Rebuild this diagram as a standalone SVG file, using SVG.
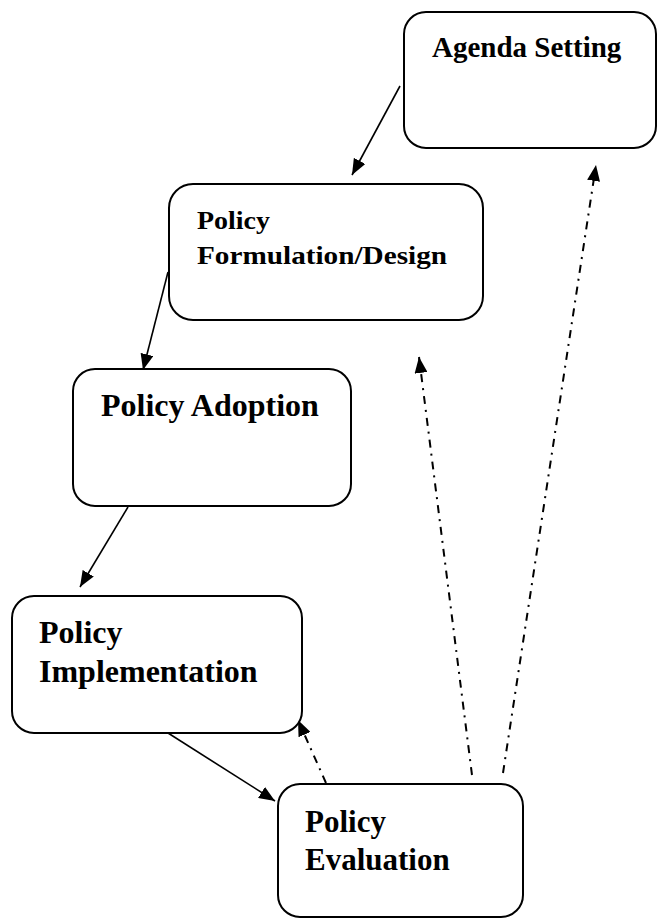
<svg xmlns="http://www.w3.org/2000/svg" width="657" height="918" viewBox="0 0 657 918">
<style>
.box{fill:#fff;stroke:#000;stroke-width:2}
.lbl{font-family:'Liberation Serif',Times,'Times New Roman',serif;font-weight:700;fill:#000}
.solid{stroke:#000;stroke-width:1.6;fill:none}
.dash{stroke:#000;stroke-width:2;fill:none;stroke-dasharray:8 6 2 6}
</style>
<defs>
<marker id="ah" markerUnits="userSpaceOnUse" markerWidth="17" markerHeight="13" refX="16" refY="6.5" orient="auto">
<path d="M0,0 L16,6.5 L0,13 z" fill="#000" stroke="none"/>
</marker>
</defs>
<rect width="657" height="918" fill="#fff"/>
<g id="connectors">
<line class="solid" x1="400" y1="86" x2="352" y2="175" marker-end="url(#ah)"/>
<line class="solid" x1="168" y1="272" x2="143" y2="370" marker-end="url(#ah)"/>
<line class="solid" x1="128" y1="507" x2="80" y2="587" marker-end="url(#ah)"/>
<line class="solid" x1="168" y1="733" x2="275" y2="801" marker-end="url(#ah)"/>
<line class="dash" x1="326" y1="783" x2="298" y2="720" marker-end="url(#ah)"/>
<line class="dash" x1="472" y1="775" x2="419" y2="357" marker-end="url(#ah)"/>
<line class="dash" x1="503" y1="773" x2="596" y2="165" marker-end="url(#ah)"/>
</g>
<g id="agenda">
<rect class="box" x="404" y="12" width="252" height="136" rx="22"/>
<text class="lbl" font-family="Liberation Serif" x="432" y="57" font-size="29">Agenda Setting</text>
</g>
<g id="formulation">
<rect class="box" x="169" y="184" width="314" height="136" rx="24"/>
<text class="lbl" font-family="Liberation Serif" x="197" y="229" font-size="26" textLength="73" lengthAdjust="spacingAndGlyphs">Policy</text>
<text class="lbl" font-family="Liberation Serif" x="197" y="264" font-size="26" textLength="250" lengthAdjust="spacingAndGlyphs">Formulation/Design</text>
</g>
<g id="adoption">
<rect class="box" x="73" y="369" width="278" height="137" rx="22"/>
<text class="lbl" font-family="Liberation Serif" x="101" y="416" font-size="32">Policy Adoption</text>
</g>
<g id="implementation">
<rect class="box" x="12" y="596" width="290" height="137" rx="22"/>
<text class="lbl" font-family="Liberation Serif" x="39" y="643" font-size="32">Policy</text>
<text class="lbl" font-family="Liberation Serif" x="39" y="682" font-size="32">Implementation</text>
</g>
<g id="evaluation">
<rect class="box" x="278" y="784" width="245" height="133" rx="22"/>
<text class="lbl" font-family="Liberation Serif" x="305" y="832" font-size="31">Policy</text>
<text class="lbl" font-family="Liberation Serif" x="305" y="870" font-size="31">Evaluation</text>
</g>
</svg>
